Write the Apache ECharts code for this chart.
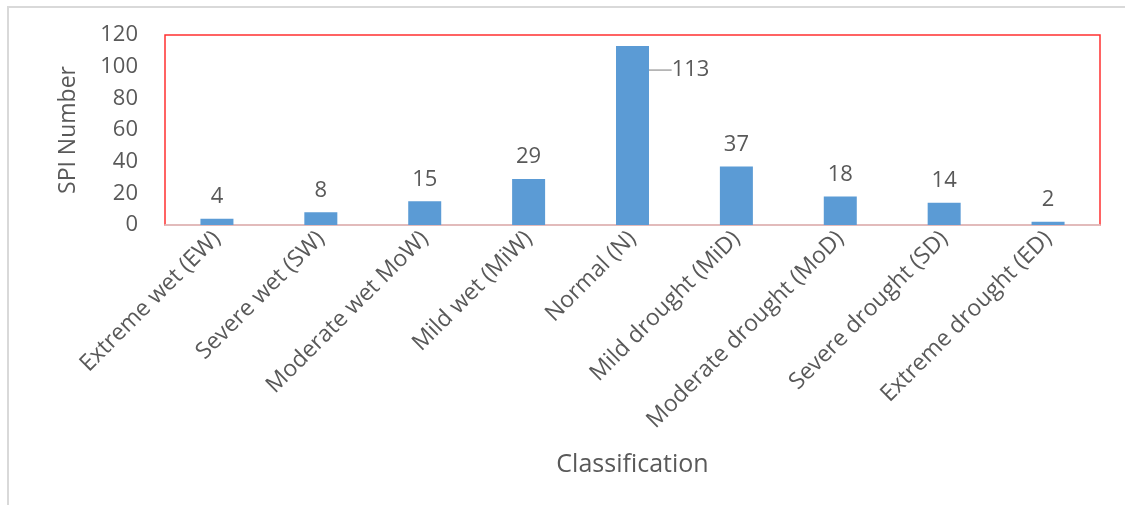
<!DOCTYPE html>
<html>
<head>
<meta charset="utf-8">
<script src="https://cdn.jsdelivr.net/npm/echarts@6/dist/echarts.min.js"></script>
<style>
  html, body { margin: 0; padding: 0; background: #fff; }
  #chart { width: 1125px; height: 505px; }
</style>
</head>
<body>
<div id="chart"></div>
<script>
// SPI classification counts
const categories = [
  'Extreme wet (EW)', 'Severe wet (SW)', 'Moderate wet MoW)', 'Mild wet (MiW)',
  'Normal (N)', 'Mild drought (MiD)', 'Moderate drought (MoD)',
  'Severe drought (SD)', 'Extreme drought (ED)'
]
const spiCounts = [4, 8, 15, 29, 113, 37, 18, 14, 2]
const yTicks = { min: 0, max: 120, interval: 20 }

const textColor = '#595959'
const fontFamily = '"Open Sans", "Noto Sans", sans-serif'
const calloutIndex = 4 // label moved aside with a leader line

const chart = echarts.init(document.getElementById('chart'), null, { renderer: 'canvas' })

const barData = spiCounts.map((v, i) => ({
  value: v,
  labelLine: { show: i === calloutIndex }
}))

const option = {
  backgroundColor: '#fff',
  animation: false,
  textStyle: { fontFamily: fontFamily },
  // outer chart frame (cropped on right/bottom like the picture)
  graphic: [{
    type: 'rect',
    shape: { x: 8, y: 7, width: 1300, height: 700 },
    style: { fill: 'none', stroke: '#d9d9d9', lineWidth: 2 },
    silent: true
  }],
  grid: {
    left: 165,
    right: 25,
    top: 35,
    bottom: 280,
    show: true,
    borderColor: '#ff3030',
    borderWidth: 1.5
  },
  xAxis: {
    type: 'category',
    data: categories,
    name: 'Classification',
    nameLocation: 'middle',
    nameGap: 227,
    nameTextStyle: { color: textColor, fontSize: 25, fontFamily: fontFamily },
    axisLine: { show: true, lineStyle: { color: '#d9d9d9', width: 1.5 } },
    axisTick: { show: false },
    axisLabel: {
      interval: 0,
      rotate: 45,
      margin: 10,
      color: textColor,
      fontSize: 23,
      fontFamily: fontFamily
    }
  },
  yAxis: {
    type: 'value',
    min: yTicks.min,
    max: yTicks.max,
    interval: yTicks.interval,
    name: 'SPI Number',
    nameLocation: 'middle',
    nameGap: 85,
    nameTextStyle: { color: textColor, fontSize: 23, fontFamily: fontFamily },
    axisLine: { show: false },
    axisTick: { show: false },
    splitLine: { show: false },
    axisLabel: {
      margin: 27,
      color: textColor,
      fontSize: 22,
      fontFamily: fontFamily
    }
  },
  series: [{
    type: 'bar',
    data: barData,
    barWidth: 33,
    itemStyle: { color: '#5b9bd5' },
    label: {
      show: true,
      position: 'top',
      distance: 11,
      color: textColor,
      fontSize: 22,
      fontFamily: fontFamily
    },
    labelLine: {
      lineStyle: { color: '#a6a6a6', width: 1.5 }
    },
    labelLayout: function (params) {
      if (params.dataIndex === calloutIndex) {
        return { dx: 58, dy: 46 }
      }
      return {}
    }
  }]
}

chart.setOption(option)
</script>
</body>
</html>
